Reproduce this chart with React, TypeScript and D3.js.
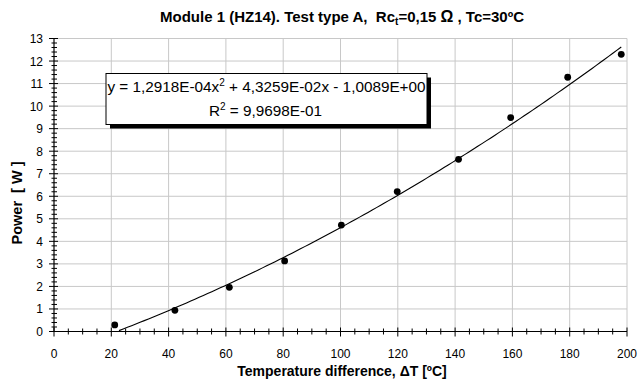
import React from 'react';
import * as d3 from 'd3';

// measured points: temperature difference (ºC) vs power (W)
const deltaT = [21.2, 42.2, 61.2, 80.5, 100.3, 119.8, 141.2, 159.4, 179.3, 198.0];
const power = [0.29, 0.94, 1.96, 3.13, 4.72, 6.21, 7.64, 9.49, 11.28, 12.3];

// polynomial trendline shown in the chart (y = a x^2 + b x + c)
const trendCoef = [1.2918e-4, 4.3259e-2, -1.0089];
const trendText = 'y = 1,2918E-04x';
const trendText2 = ' + 4,3259E-02x - 1,0089E+00';
const r2Text = ' = 9,9698E-01';

const xTicks = d3.range(0, 201, 20);
const yTicks = d3.range(0, 14, 1);

export default function App() {
  const width = 640;
  const height = 380;
  const left = 54;
  const right = 627;
  const top = 38.5;
  const bottom = 331.5;

  const x = d3.scaleLinear().domain([0, 200]).range([left, right]);
  const y = d3.scaleLinear().domain([0, 13]).range([bottom, top]);

  const poly = (t: number) => trendCoef[0] * t * t + trendCoef[1] * t + trendCoef[2];
  const x0 = d3.min(deltaT)!;
  const x1 = d3.max(deltaT)!;
  const trendPts = d3
    .range(0, 121)
    .map((i) => x0 + ((x1 - x0) * i) / 120)
    .map((t) => ({ t, v: poly(t) }))
    .filter((d) => d.v >= 0);
  const line = d3
    .line<{ t: number; v: number }>()
    .x((d) => x(d.t))
    .y((d) => y(d.v));

  const xMinor = d3.range(0, 201, 5).filter((v) => v % 20 !== 0);
  const yMinor = d3.range(0, 13.001, 0.2).filter((v) => Math.abs(v - Math.round(v)) > 0.01);

  const font = 'Arial, "Liberation Sans", sans-serif';
  const grid = '#c8c8c8';

  // legend box
  const bx = 106, by = 73.5, bw = 321, bh = 51;

  return (
    <div style={{ position: 'fixed', left: 0, top: 0 }}>
      <svg width={width} height={height} style={{ display: 'block', background: '#fff' }} fontFamily={font}>
        {/* title */}
        <text x={342} y={21.5} textAnchor="middle" fontSize={15} fontWeight="bold" fill="#000">
          Module 1 (HZ14). Test type A,{'\u00a0\u00a0'}Rc
          <tspan fontSize={10} dy={3}>t</tspan>
          <tspan dy={-3}>=0,15 </tspan>
          <tspan fontSize={16}>Ω</tspan>
          <tspan> , Tc=30ºC</tspan>
        </text>

        {/* gridlines */}
        {xTicks.slice(1).map((t) => (
          <line key={'gx' + t} x1={x(t)} x2={x(t)} y1={top} y2={bottom} stroke={grid} strokeWidth={1} />
        ))}
        {yTicks.slice(1).map((t) => (
          <line key={'gy' + t} x1={left} x2={right} y1={y(t)} y2={y(t)} stroke={grid} strokeWidth={1} />
        ))}

        {/* axes */}
        <line x1={left} x2={left} y1={top} y2={bottom} stroke="#000" strokeWidth={1.2} />
        <line x1={left} x2={right} y1={bottom} y2={bottom} stroke="#000" strokeWidth={1.2} />
        {xTicks.map((t) => (
          <line key={'xt' + t} x1={x(t)} x2={x(t)} y1={bottom - 4} y2={bottom + 5} stroke="#000" />
        ))}
        {xMinor.map((t) => (
          <line key={'xm' + t} x1={x(t)} x2={x(t)} y1={bottom - 3} y2={bottom + 3} stroke="#000" />
        ))}
        {yTicks.map((t) => (
          <line key={'yt' + t} x1={left - 5} x2={left + 4} y1={y(t)} y2={y(t)} stroke="#000" />
        ))}
        {yMinor.map((t) => (
          <line key={'ym' + t} x1={left - 2.5} x2={left + 3} y1={y(t)} y2={y(t)} stroke="#000" />
        ))}

        {/* tick labels */}
        {xTicks.map((t) => (
          <text key={'xl' + t} x={x(t)} y={357.5} textAnchor="middle" fontSize={12} fill="#000">
            {t}
          </text>
        ))}
        {yTicks.map((t) => (
          <text key={'yl' + t} x={43} y={y(t) + 4.5} textAnchor="end" fontSize={12} fill="#000">
            {t}
          </text>
        ))}

        {/* axis titles */}
        <text x={342} y={375.5} textAnchor="middle" fontSize={14} fontWeight="bold" fill="#000">
          Temperature difference, ΔT [ºC]
        </text>
        <text
          transform={`translate(22,${203}) rotate(-90)`}
          textAnchor="middle"
          fontSize={14.5}
          fontWeight="bold"
          fill="#000"
        >
          Power{'\u00a0\u00a0'}[ W ]
        </text>

        {/* trendline */}
        <path d={line(trendPts) || undefined} fill="none" stroke="#000" strokeWidth={1.1} />

        {/* data points */}
        {deltaT.map((t, i) => (
          <circle key={'p' + i} cx={x(t)} cy={y(power[i])} r={3.4} fill="#000" />
        ))}

        {/* equation box */}
        <rect x={bx + 4} y={by + 4} width={bw} height={bh} fill="#000" />
        <rect x={bx} y={by} width={bw} height={bh} fill="#fff" stroke="#000" strokeWidth={1} />
        <text x={bx + bw / 2} y={92} textAnchor="middle" fontSize={15.3} fill="#000">
          {trendText}
          <tspan fontSize={10} dy={-6}>2</tspan>
          <tspan dy={6}>{trendText2}</tspan>
        </text>
        <text x={bx + bw / 2 - 1} y={115.5} textAnchor="middle" fontSize={15.3} fill="#000">
          R<tspan fontSize={10} dy={-6}>2</tspan>
          <tspan dy={6}>{r2Text}</tspan>
        </text>
      </svg>
    </div>
  );
}
